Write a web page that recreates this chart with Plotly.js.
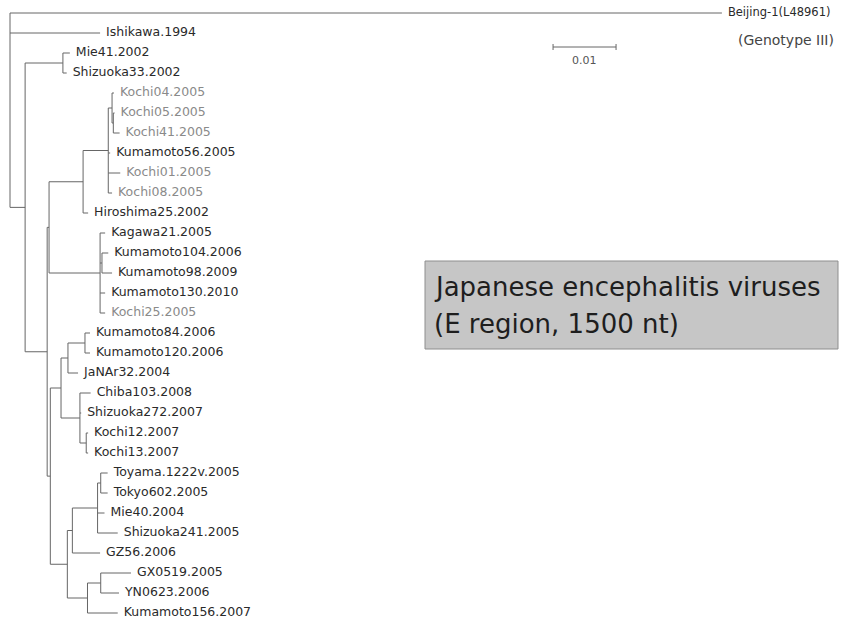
<!DOCTYPE html>
<html>
<head>
<meta charset="utf-8">
<script src="https://cdn.plot.ly/plotly-3.0.1.min.js"></script>
<style>html,body{margin:0;padding:0;background:#fff;}#chart{width:844px;height:625px;}</style>
</head>
<body>
<div id="chart"></div>
<script>
// ---- Data: leaves in display order ----
const taxa = [
  'Beijing-1(L48961)','Ishikawa.1994','Mie41.2002','Shizuoka33.2002',
  'Kochi04.2005','Kochi05.2005','Kochi41.2005','Kumamoto56.2005','Kochi01.2005','Kochi08.2005',
  'Hiroshima25.2002','Kagawa21.2005','Kumamoto104.2006','Kumamoto98.2009','Kumamoto130.2010','Kochi25.2005',
  'Kumamoto84.2006','Kumamoto120.2006','JaNAr32.2004','Chiba103.2008','Shizuoka272.2007','Kochi12.2007','Kochi13.2007',
  'Toyama.1222v.2005','Tokyo602.2005','Mie40.2004','Shizuoka241.2005','GZ56.2006','GX0519.2005','YN0623.2006','Kumamoto156.2007'
];
// parent node of each leaf
const taxonParent = [
  'root','root','MS','MS',
  'I','J','J','H','H','H',
  'G','K','L','L','K','K',
  'N','N','Np','O','O','P','P',
  'T','T','S','S','R','V','V','U'
];
// terminal branch lengths (substitutions/site)
const taxonLen = [
  0.1130,0.0143,0.0011,0.0006,
  0.0003,0.0002,0.0010,0.0003,0.0019,0.0006,
  0.0008,0.0008,0.0010,0.0016,0.0008,0.0008,
  0.0008,0.0008,0.0016,0.0017,0.0002,0.0003,0.0003,
  0.0011,0.0011,0.0011,0.0032,0.0044,0.0048,0.0029,0.0048
];
// internal nodes (parents listed before children)
const nodeIds    = ['root','B','MS','C','E','G','H','I','J','K','L','F','M','Np','N','O','P','Q','R','S','T','U','V'];
const nodeParent = [null,'root','B','B','C','E','G','H','I','E','K','C','F','M','Np','M','O','F','Q','R','S','Q','U'];
const nodeLen    = [0,0.0024,0.0060,0.0035,0.0003,0.0054,0.0040,0.0006,0.0002,0.0081,0.0003,0.0005,0.0017,0.0011,0.0027,0.0030,0.0010,0.0027,0.0008,0.0040,0.0005,0.0032,0.0021];
const grayTaxa = ['Kochi04.2005','Kochi05.2005','Kochi41.2005','Kochi01.2005','Kochi08.2005','Kochi25.2005'];
const scaleLen = 0.01;
const scaleLabel = '0.01';
const outgroupNote = '(Genotype III)';
const boxLines = ['Japanese encephalitis viruses','(E region, 1500 nt)'];

// ---- Build coordinates ----
const X = {}, Y = {}, kids = {};
nodeIds.forEach((id,i)=>{ kids[id]=[]; X[id] = nodeParent[i] ? X[nodeParent[i]] + nodeLen[i] : 0; });
taxa.forEach((t,i)=>{ X[t] = X[taxonParent[i]] + taxonLen[i]; Y[t] = i; kids[taxonParent[i]].push(t); });
nodeIds.forEach((id,i)=>{ if(nodeParent[i]) kids[nodeParent[i]].push(id); });
for(let i=nodeIds.length-1;i>=0;i--){
  const id=nodeIds[i]; const ys=kids[id].map(c=>Y[c]);
  Y[id]=(Math.min(...ys)+Math.max(...ys))/2;
}
const lx=[], ly=[];
function seg(x0,y0,x1,y1){ lx.push(x0,x1,null); ly.push(y0,y1,null); }
taxa.forEach((t,i)=>seg(X[taxonParent[i]],Y[t],X[t],Y[t]));
nodeIds.forEach((id,i)=>{
  if(nodeParent[i]) seg(X[nodeParent[i]],Y[id],X[id],Y[id]);
  const ys=kids[id].map(c=>Y[c]);
  seg(X[id],Math.min(...ys),X[id],Math.max(...ys));
});

// scale bar (layout placement)
const sbX0 = 0.0862, sbY = 1.7;
const sbx=[sbX0,sbX0+scaleLen,null,sbX0,sbX0,null,sbX0+scaleLen,sbX0+scaleLen];
const sby=[sbY,sbY,null,sbY-0.15,sbY+0.15,null,sbY-0.15,sbY+0.15];

const traces = [
  {x:lx,y:ly,mode:'lines',line:{color:'#666',width:1},hoverinfo:'skip',showlegend:false},
  {x:sbx,y:sby,mode:'lines',line:{color:'#666',width:1},hoverinfo:'skip',showlegend:false},
  {x:taxa.map(t=>X[t]),y:taxa.map(t=>Y[t]),mode:'markers+text',text:taxa,textposition:'middle right',
   marker:{size:8,color:'rgba(0,0,0,0)'},
   textfont:{family:'DejaVu Sans',size:taxa.map((t,i)=>i===0?11.5:12.5),
             color:taxa.map(t=>grayTaxa.includes(t)?'#8a8a8a':'#2a2a2a')},
   hoverinfo:'skip',showlegend:false}
];

const layout = {
  width:844,height:625,margin:{l:0,r:0,t:0,b:0},
  paper_bgcolor:'#fff',plot_bgcolor:'#fff',
  xaxis:{range:[-10/6300,834/6300],visible:false,fixedrange:true},
  yaxis:{range:[30.6,-0.65],visible:false,fixedrange:true},
  shapes:[{type:'rect',xref:'paper',yref:'paper',x0:425/844,x1:838/844,y0:1-349/625,y1:1-261/625,
           fillcolor:'#c6c6c6',line:{color:'#8e8e8e',width:1}}],
  annotations:[
    {x:sbX0+scaleLen/2,y:2.35,text:scaleLabel,showarrow:false,font:{family:'DejaVu Sans',size:11,color:'#555'}},
    {xref:'paper',yref:'paper',x:786/844,y:1-40/625,xanchor:'center',yanchor:'middle',text:outgroupNote,showarrow:false,font:{family:'DejaVu Sans',size:14,color:'#444'}},
    {xref:'paper',yref:'paper',x:432/844,y:1-287/625,xanchor:'left',yanchor:'middle',text:boxLines[0],showarrow:false,font:{family:'DejaVu Sans',size:26,color:'#1e1e1e'}},
    {xref:'paper',yref:'paper',x:432/844,y:1-324/625,xanchor:'left',yanchor:'middle',text:boxLines[1],showarrow:false,font:{family:'DejaVu Sans',size:26,color:'#1e1e1e'}}
  ]
};
Plotly.newPlot('chart',traces,layout,{staticPlot:true,displayModeBar:false});
</script>
</body>
</html>
